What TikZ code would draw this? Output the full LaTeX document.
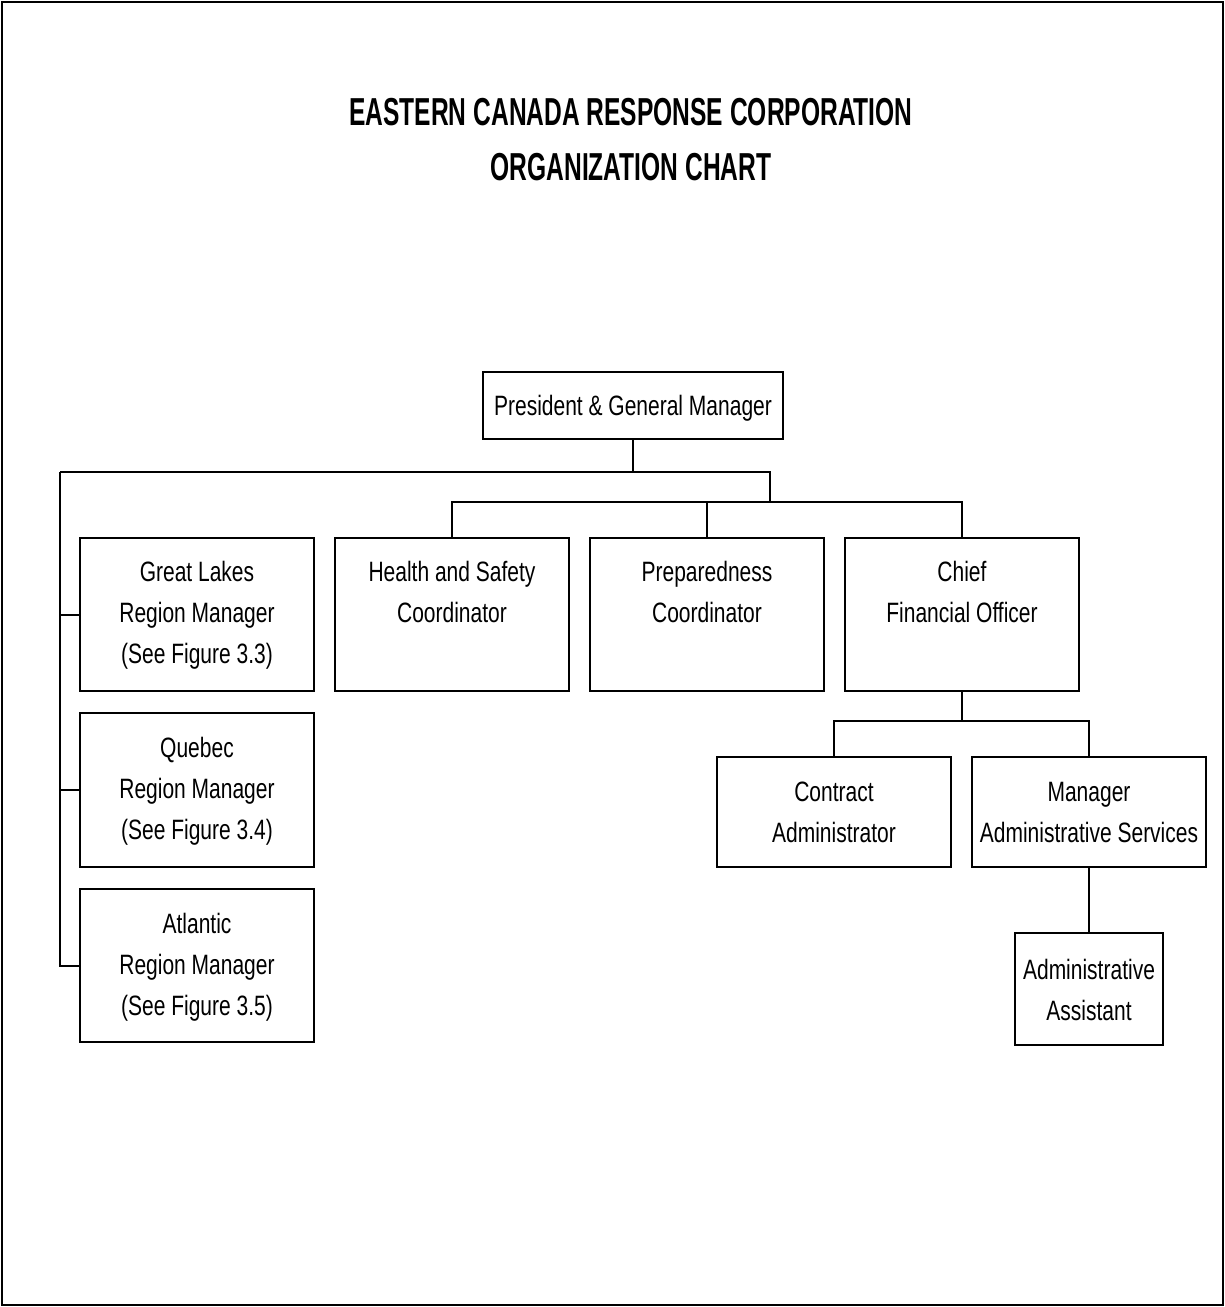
\documentclass[tikz,border=0pt]{standalone}
\usepackage{fontspec}
\setmainfont{Liberation Sans}[FakeStretch=0.75]
\newfontfamily\titlefont{Liberation Sans}[FakeStretch=0.63]
\tikzset{
  box/.style={draw=black, line width=2.6pt, inner sep=0pt, fill=white},
  txt/.style={font=\fontsize{28}{41}\selectfont, align=center, inner sep=0pt, anchor=base},
  conn/.style={draw=black, line width=2pt},
  frame/.style={draw=black, line width=2.6pt}
}
\begin{document}
\begin{tikzpicture}[x=1pt,y=-1pt]
\useasboundingbox (0,0) rectangle (1225,1307);
\draw[frame] (2,2) rectangle (1223,1305);

% title (anchor=base is the baseline of the last line)
\node[font=\titlefont\bfseries\fontsize{39}{55}\selectfont, align=center, inner sep=0pt, anchor=base] (title) at (631,180)
  {EASTERN CANADA RESPONSE CORPORATION\\ORGANIZATION CHART};

% boxes
\node[box, minimum width=300pt, minimum height=67pt] (pres) at (633,405.5) {};
\node[box, minimum width=234pt, minimum height=153pt] (gl) at (197,614.5) {};
\node[box, minimum width=234pt, minimum height=153pt] (hs) at (452,614.5) {};
\node[box, minimum width=234pt, minimum height=153pt] (prep) at (707,614.5) {};
\node[box, minimum width=234pt, minimum height=153pt] (cfo) at (962,614.5) {};
\node[box, minimum width=234pt, minimum height=154pt] (qb) at (197,790) {};
\node[box, minimum width=234pt, minimum height=153pt] (at) at (197,965.5) {};
\node[box, minimum width=234pt, minimum height=110pt] (ca) at (834,812) {};
\node[box, minimum width=234pt, minimum height=110pt] (mas) at (1089,812) {};
\node[box, minimum width=148pt, minimum height=112pt] (aa) at (1089,989) {};

% texts (positions are baselines of the last line)
\node[txt] (pres-t) at (633,415) {President \& General Manager};
\node[txt] (gl-t) at (197,663) {Great Lakes\\Region Manager\\(See Figure 3.3)};
\node[txt] (hs-t) at (452,622) {Health and Safety\\Coordinator};
\node[txt] (prep-t) at (707,622) {Preparedness\\Coordinator};
\node[txt] (cfo-t) at (962,622) {Chief\\Financial Officer};
\node[txt] (qb-t) at (197,839) {Quebec\\Region Manager\\(See Figure 3.4)};
\node[txt] (at-t) at (197,1015) {Atlantic\\Region Manager\\(See Figure 3.5)};
\node[txt] (ca-t) at (834,842) {Contract\\Administrator};
\node[txt] (mas-t) at (1089,842) {Manager\\Administrative Services};
\node[txt] (aa-t) at (1089,1020) {Administrative\\Assistant};

% bus coordinates
\coordinate (b1) at (633,472);
\coordinate (b1l) at (60,472);
\coordinate (b1r) at (770,472);
\coordinate (b2) at (770,502);
\coordinate (b3) at (962,721);

% connectors
\draw[conn] (pres.south) -- (b1);
\draw[conn] (b1l) -- (b1r) -- (b2);
\draw[conn] (hs.north) -- (hs.north |- b2) -- (cfo.north |- b2) -- (cfo.north);
\draw[conn] (prep.north) -- (prep.north |- b2);
\draw[conn] (b1l) -- (b1l |- at.west) -- (at.west);
\draw[conn] (b1l |- gl.west) -- (gl.west);
\draw[conn] (b1l |- qb.west) -- (qb.west);
\draw[conn] (cfo.south) -- (b3);
\draw[conn] (ca.north) -- (ca.north |- b3) -- (mas.north |- b3) -- (mas.north);
\draw[conn] (mas.south) -- (aa.north);
\end{tikzpicture}
\end{document}
